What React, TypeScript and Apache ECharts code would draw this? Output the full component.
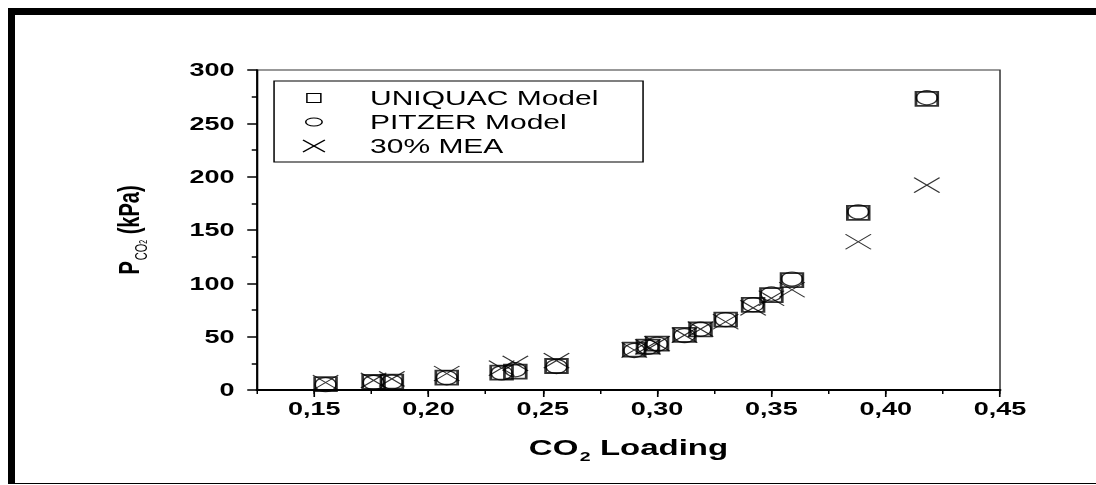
import { useEffect, useRef } from 'react';
import * as echarts from 'echarts';

// ---- data ----
const loading = [0.155, 0.176, 0.184, 0.208, 0.232, 0.238, 0.256, 0.290, 0.296, 0.300, 0.312, 0.319, 0.330, 0.342, 0.350, 0.359, 0.388, 0.418];
const uniquac = [5.6, 7.5, 7.8, 11.6, 16.3, 17.2, 22.5, 37.8, 40.6, 43.4, 51.6, 56.9, 65.9, 79.7, 89, 103, 166, 273];
const pitzer = [5.0, 7.0, 7.5, 11.5, 16.0, 19.0, 22.0, 37.0, 40.0, 43.0, 51.0, 57.0, 66.0, 80.0, 90.0, 104, 167, 274];
const mea = [7.0, 9.0, 10.5, 15.5, 20.5, 25.0, 27.5, 37.5, 40.5, 43.5, 51.5, 57.0, 64.0, 77.0, 86.0, 94.0, 139, 192];
const xTicks = [0.15, 0.2, 0.25, 0.3, 0.35, 0.4, 0.45];
const legendNames = ['UNIQUAC Model', 'PITZER Model', '30% MEA'];

const S = 1.5; // horizontal stretch of the original figure
const W = 731;
const H = 485;
const FONT = '"Liberation Sans", Arial, sans-serif';

const pairs = (ys: number[]) => ys.map((y, i) => [loading[i], y]);

export default function App() {
  const ref = useRef<HTMLDivElement>(null);
  useEffect(() => {
    document.body.style.overflow = 'hidden';
    const chart = echarts.init(ref.current!, null, { renderer: 'svg', width: W, height: H });
    const gridLeft = 171.33;
    const gridRight = W - 666.67;
    const lx = 209.3;
    const option: any = {
      animation: false,
      grid: { left: gridLeft, right: gridRight, top: 70, bottom: 95, show: true, borderColor: '#333', borderWidth: 1, backgroundColor: 'transparent' },
      xAxis: [
        {
          type: 'value', min: 0.125, max: 0.45, position: 'bottom',
          axisLine: { show: true, onZero: false, lineStyle: { color: '#000', width: 2 } },
          axisTick: { show: true, inside: false, length: 7, customValues: xTicks, lineStyle: { color: '#000', width: 1.1 } },
          axisLabel: {
            customValues: xTicks, margin: 10, color: '#000', fontFamily: FONT, fontWeight: 'bold', fontSize: 18,
            formatter: (v: number) => v.toFixed(2).replace('.', ','),
          },
          splitLine: { show: false },
          name: '{a|CO}{b|2}{a| Loading}', nameLocation: 'middle', nameGap: 47,
          nameTextStyle: {
            rich: {
              a: { fontFamily: FONT, fontWeight: 'bold', fontSize: 22, lineHeight: 26, verticalAlign: 'top', color: '#000' },
              b: { fontFamily: FONT, fontWeight: 'bold', fontSize: 13, lineHeight: 13, padding: [14, 0, 0, 1], verticalAlign: 'bottom', color: '#000' },
            },
          },
        },
        {
          type: 'value', min: 0.125, max: 0.45, interval: 0.025, position: 'bottom',
          axisLine: { show: false },
          axisTick: { show: true, inside: false, length: 4, lineStyle: { color: '#000', width: 1 } },
          axisLabel: { show: false },
          splitLine: { show: false },
        },
      ],
      yAxis: {
        type: 'value', min: 0, max: 300, interval: 50,
        axisLine: { show: true, onZero: false, lineStyle: { color: '#000', width: 1.4 } },
        axisTick: { show: true, inside: false, length: 6.5, lineStyle: { color: '#000', width: 1.5 } },
        minorTick: { show: true, splitNumber: 2, length: 3.5, lineStyle: { color: '#000', width: 1.5 } },
        axisLabel: { margin: 15, color: '#000', fontFamily: FONT, fontWeight: 'bold', fontSize: 18 },
        splitLine: { show: false },
        name: '{p|P}{s|CO}{t|2}{p| (kPa)}', nameLocation: 'middle', nameRotate: 90, nameGap: 72,
        nameTextStyle: {
          rich: {
            p: { fontFamily: FONT, fontWeight: 'bold', fontSize: 20, lineHeight: 24, verticalAlign: 'top', color: '#000' },
            s: { fontFamily: FONT, fontSize: 11, lineHeight: 11, padding: [15, 0, 0, 1], verticalAlign: 'bottom', color: '#000' },
            t: { fontFamily: FONT, fontSize: 7, lineHeight: 7, padding: [21, 0, 0, 0], verticalAlign: 'bottom', color: '#000' },
          },
        },
      },
      series: [
        {
          name: legendNames[0], type: 'scatter', xAxisIndex: 0, data: pairs(uniquac),
          symbol: 'rect', symbolSize: [14.5, 14],
          itemStyle: { color: 'rgba(0,0,0,0)', borderColor: '#000', borderWidth: 1.8 },
        },
        {
          name: legendNames[1], type: 'scatter', xAxisIndex: 0, data: pairs(pitzer),
          symbol: 'circle', symbolSize: 14,
          itemStyle: { color: 'rgba(0,0,0,0)', borderColor: '#000', borderWidth: 1.2 },
        },
        {
          name: legendNames[2], type: 'scatter', xAxisIndex: 0, data: pairs(mea),
          symbol: 'path://M0,0L10,10M10,0L0,10', symbolSize: [17, 15],
          itemStyle: { color: 'rgba(0,0,0,0)', borderColor: '#000', borderWidth: 1 },
        },
      ],
      graphic: [
        { type: 'rect', shape: { x: 182.7, y: 81, width: 246, height: 81 }, style: { fill: '#fff', stroke: '#000', lineWidth: 1 }, z: 10 },
        { type: 'rect', shape: { x: lx - 4.7, y: 93.5, width: 9.3, height: 9 }, style: { fill: 'none', stroke: '#000', lineWidth: 1 }, z: 11 },
        { type: 'ellipse', shape: { cx: lx, cy: 122, rx: 5.5, ry: 4 }, style: { fill: 'none', stroke: '#000', lineWidth: 1 }, z: 11 },
        { type: 'line', shape: { x1: lx - 7.3, y1: 140, x2: lx + 7.3, y2: 152 }, style: { stroke: '#000', lineWidth: 1 }, z: 11 },
        { type: 'line', shape: { x1: lx + 7.3, y1: 140, x2: lx - 7.3, y2: 152 }, style: { stroke: '#000', lineWidth: 1 }, z: 11 },
        ...legendNames.map((t, i) => ({
          type: 'text', z: 11,
          style: { text: t, x: 246.7, y: 98 + i * 24, verticalAlign: 'middle', fill: '#000', fontFamily: FONT, fontSize: 20 },
        })),
      ],
    };
    chart.setOption(option);
    return () => chart.dispose();
  }, []);
  return (
    <>
      <div
        style={{
          position: 'fixed', left: 8, top: 8, width: 1088, height: 476, boxSizing: 'border-box',
          borderLeft: '7px solid #000', borderTop: '7px solid #000', borderBottom: '1px solid #000', background: '#fff',
        }}
      />
      <div
        ref={ref}
        style={{ position: 'fixed', left: 0, top: 0, width: W, height: H, transform: `scaleX(${S})`, transformOrigin: '0 0' }}
      />
    </>
  );
}
